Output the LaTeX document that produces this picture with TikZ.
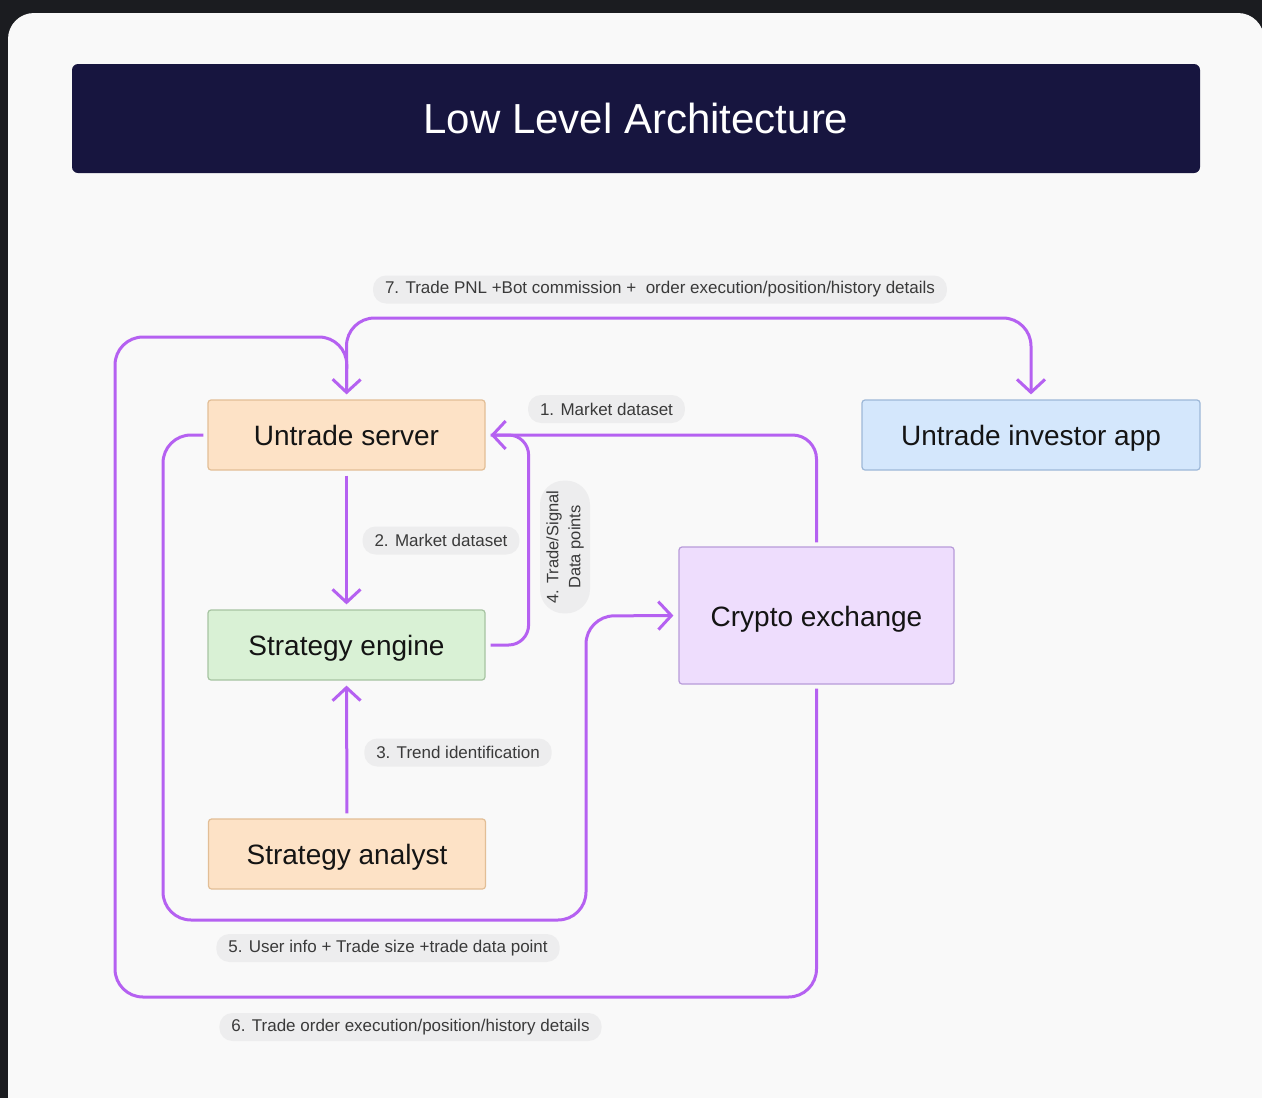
\documentclass[tikz,border=0pt]{standalone}
\usepackage{fontspec}
\setmainfont{Liberation Sans}
\usetikzlibrary{arrows.meta}
\definecolor{darkbg}{HTML}{1B1C20}
\definecolor{card}{HTML}{F9F9F9}
\definecolor{titlebg}{HTML}{17153F}
\definecolor{flowc}{HTML}{B561F1}
\definecolor{pillbg}{HTML}{EDEDEE}
\definecolor{pilltext}{HTML}{3A3A3A}
\definecolor{peachf}{HTML}{FDE2C6}
\definecolor{peachd}{HTML}{E2BE96}
\definecolor{greenf}{HTML}{D9F1D5}
\definecolor{greend}{HTML}{A7C4A2}
\definecolor{lavf}{HTML}{EEDDFD}
\definecolor{lavd}{HTML}{B79BD9}
\definecolor{bluef}{HTML}{D4E7FC}
\definecolor{blued}{HTML}{9DB8D8}
\definecolor{nodetext}{HTML}{141414}
\tikzset{
  x=1pt, y=-1pt,
  box/.style={draw, line width=1.2pt, rounded corners=3pt, text=nodetext,
    font=\fontsize{28}{32}\selectfont, inner sep=0pt, text height=21pt, text depth=0pt},
  peachbox/.style={box, fill=peachf, draw=peachd, minimum width=277pt, minimum height=70pt},
  greenbox/.style={box, fill=greenf, draw=greend, minimum width=277pt, minimum height=70pt},
  lavbox/.style={box, fill=lavf, draw=lavd, minimum width=275pt, minimum height=137pt},
  bluebox/.style={box, fill=bluef, draw=blued, minimum width=338pt, minimum height=70pt},
  pill/.style={fill=pillbg, rounded corners=13pt, text=pilltext,
    font=\fontsize{17}{20}\selectfont, inner xsep=12pt, minimum height=28pt, inner ysep=0pt},
  flow/.style={draw=flowc, line width=3pt, rounded corners=24pt},
  tip/.style={-{Straight Barb[length=13pt, width=28pt, line width=3pt]}},
}
\begin{document}
\begin{tikzpicture}
\useasboundingbox (0,0) rectangle (1262,1098);
% backdrop and card
\fill[darkbg] (0,0) rectangle (1262,1098);
\fill[card, rounded corners=26pt] (8,13) rectangle (1264,1125);

% title bar
\node[fill=titlebg, rounded corners=6pt, minimum width=1128pt, minimum height=109pt,
  text=white, font=\fontsize{42}{48}\selectfont, inner sep=0pt]
  (title) at (636,118.5) {Low Level Architecture};

% components
\node[peachbox] (us) at (346.5,435) {Untrade server};
\node[greenbox] (se) at (346.5,645) {Strategy engine};
\node[peachbox] (sa) at (347,854) {Strategy analyst};
\node[lavbox]   (cx) at (816.5,615.5) {Crypto exchange};
\node[bluebox]  (app) at (1031,435) {Untrade investor app};

% 1. exchange -> server
\draw[flow, tip, shorten >=5pt, shorten <=4pt] (cx.north) |- (us.east);
% 4. engine -> server
\draw[flow, rounded corners=20pt, shorten >=5pt, shorten <=5pt]
  (se.east) -- ++(43,0) |- (us.east);
% 2. server -> engine
\draw[flow, tip, shorten >=5pt, shorten <=5pt] (us.south) -- (se.north);
% 3. analyst -> engine
\draw[flow, tip, shorten >=5pt, shorten <=5pt] (sa.north) -- (se.south);
% 5. server -> exchange
\draw[flow, rounded corners=28pt, tip, shorten >=5pt, shorten <=4pt]
  (us.west) -| (163,920) -| (586,616) -- (cx.west);
% 6. exchange -> server
\draw[flow, rounded corners=28pt, tip, shorten >=5pt, shorten <=4pt]
  (cx.south) |- (115,997) |- (347,337) -- (us.north);
% 7. server -> investor app
\draw[flow, rounded corners=28pt, tip, shorten >=5pt, shorten <=12pt]
  (us.north) |- (1031,318) -- (app.north);

% connector labels
\node[pill] (l7) at (660,289.5) {7. Trade PNL +Bot commission +\ \ order execution/position/history details};
\node[pill] (l1) at (606.5,409) {1. Market dataset};
\node[pill] (l2) at (441,540.5) {2. Market dataset};
\node[pill] (l3) at (458,752.5) {3. Trend identification};
\node[pill, rotate=90, align=center, rounded corners=24pt, inner xsep=10pt,
  minimum height=50pt, font=\fontsize{16.5}{22}\selectfont]
  (l4) at (565,547) {4. Trade/Signal\\Data points};
\node[pill] (l5) at (388,948) {5. User info + Trade size +trade data point};
\node[pill] (l6) at (410.5,1027) {6. Trade order execution/position/history details};
\end{tikzpicture}
\end{document}
